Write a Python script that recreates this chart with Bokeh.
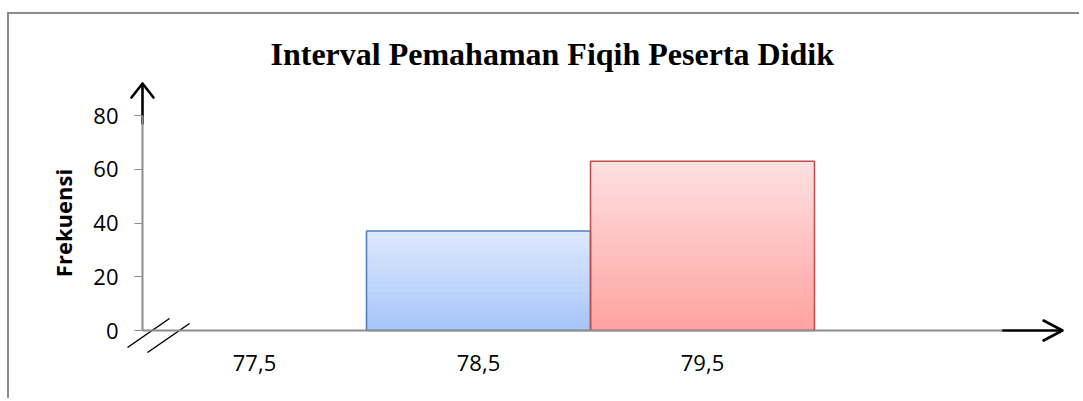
from bokeh.plotting import figure
from bokeh.models import Range1d, LinearAxis, FixedTicker
from bokeh.embed import file_html
from bokeh.resources import INLINE

# ---------------- data ----------------
classes = ["77,5", "78,5", "79,5"]          # x tick labels
class_mid = [77.5, 78.5, 79.5]              # class mid points
frekuensi = [0, 37, 63]                     # bar heights
y_ticks = [0, 20, 40, 60, 80]
bar_width = 1.0
x_axis_start, x_axis_end = 77.0, 80.84
y_axis_start, y_axis_end = 0, 80

# ---------------- styles ----------------
edge_colors = ["#4f81bd", "#4f81bd", "#c0504d"]
grad_top = [(222, 233, 252), (222, 233, 252), (253, 225, 225)]
grad_bottom = [(165, 196, 250), (165, 196, 250), (255, 162, 160)]
axis_gray = "#8c8c8c"

# ---------------- layout (page pixels) ----------------
W, H = 1072, 386
CANVAS_X0, CANVAS_Y0 = 9, 14
FRAME_TOP = 80
ORIGIN_X, ORIGIN_Y = 142, 330     # page pixel of (77.0, 0)
PX_PER_X = 224.0
PX_PER_Y = 215.0 / 80.0


def dx(page_x):
    return x_axis_start + (page_x - ORIGIN_X) / PX_PER_X


def dy(page_y):
    return (ORIGIN_Y - page_y) / PX_PER_Y


x_range = Range1d(dx(CANVAS_X0), dx(CANVAS_X0 + W))
y_range = Range1d(dy(CANVAS_Y0 + H), dy(FRAME_TOP))

p = figure(width=W, height=H, x_range=x_range, y_range=y_range,
           output_backend="svg", toolbar_location=None,
           x_axis_type=None, y_axis_type=None,
           min_border_left=0, min_border_right=0, min_border_bottom=0,
           min_border_top=FRAME_TOP - CANVAS_Y0,
           title="Interval Pemahaman Fiqih Peserta Didik")
p.grid.visible = False
p.outline_line_color = None
p.background_fill_color = "white"
p.border_fill_color = "white"
p.styles = {"border-top": "2px solid #8a8a8a", "border-left": "2px solid #8a8a8a",
            "transform": "translate(%dpx, %dpx)" % (CANVAS_X0 - 2, CANVAS_Y0 - 2)}

p.title.text_font = "Liberation Serif"
p.title.text_font_style = "bold"
p.title.text_font_size = "32px"
p.title.text_color = "black"
p.title.align = "left"
p.title.offset = 270 - CANVAS_X0
p.title.standoff = 18

# ---------------- bars with vertical gradient ----------------
N = 60
sl, sr, sb, st, sc = [], [], [], [], []
for mid, f, ct, cb in zip(class_mid, frekuensi, grad_top, grad_bottom):
    if f <= 0:
        continue
    for k in range(N):
        t = (k + 0.5) / N
        col = tuple(int(round(cb[j] + (ct[j] - cb[j]) * t)) for j in range(3))
        sl.append(mid - bar_width / 2)
        sr.append(mid + bar_width / 2)
        sb.append(f * k / N)
        st.append(f * (k + 1) / N + (f / N) * 0.3 if k < N - 1 else f)
        sc.append("#%02x%02x%02x" % col)
p.quad(left=sl, right=sr, bottom=sb, top=st, fill_color=sc, line_color=None)

# outlines
ol = [m - bar_width / 2 for m, f in zip(class_mid, frekuensi) if f > 0]
orr = [m + bar_width / 2 for m, f in zip(class_mid, frekuensi) if f > 0]
ot = [f for f in frekuensi if f > 0]
oc = [c for c, f in zip(edge_colors, frekuensi) if f > 0]
p.quad(left=ol, right=orr, bottom=[0] * len(ot), top=ot, fill_color=None,
       line_color=oc, line_width=1.6)

# ---------------- axes ----------------
yaxis = LinearAxis(fixed_location=x_axis_start, bounds=(y_axis_start, y_axis_end),
                   ticker=FixedTicker(ticks=y_ticks, minor_ticks=[]))
yaxis.axis_line_color = axis_gray
yaxis.axis_line_width = 2
yaxis.major_tick_line_color = axis_gray
yaxis.major_tick_line_width = 1
yaxis.major_tick_out = 8
yaxis.major_tick_in = 0
yaxis.minor_tick_line_color = None
yaxis.major_label_text_font = "Open Sans"
yaxis.major_label_text_font_size = "22px"
yaxis.major_label_text_color = "black"
yaxis.major_label_standoff = 16
yaxis.axis_label = "Frekuensi"
yaxis.axis_label_text_font = "Open Sans"
yaxis.axis_label_text_font_style = "bold"
yaxis.axis_label_text_font_size = "22px"
yaxis.axis_label_text_color = "black"
yaxis.axis_label_standoff = 12
p.add_layout(yaxis, "left")

xaxis = LinearAxis(fixed_location=0, bounds=(x_axis_start, x_axis_end),
                   ticker=FixedTicker(ticks=class_mid, minor_ticks=[]))
xaxis.major_label_overrides = {m: c for m, c in zip(class_mid, classes)}
xaxis.axis_line_color = axis_gray
xaxis.axis_line_width = 2
xaxis.major_tick_line_color = None
xaxis.major_tick_out = 0
xaxis.major_tick_in = 0
xaxis.minor_tick_line_color = None
xaxis.major_label_text_font = "Open Sans"
xaxis.major_label_text_font_size = "22px"
xaxis.major_label_text_color = "black"
xaxis.major_label_standoff = 24
p.add_layout(xaxis, "below")

# ---------------- hand-drawn arrows & axis break ----------------
vx = ORIGIN_X
hy = ORIGIN_Y
arrow_xs = [
    [dx(vx), dx(vx)],                               # vertical shaft
    [dx(vx - 11), dx(vx), dx(vx + 11)],             # vertical head
    [x_axis_end, dx(1061)],                         # horizontal shaft
    [dx(1043), dx(1062), dx(1043)],                 # horizontal head
]
arrow_ys = [
    [dy(123), dy(84)],
    [dy(97), dy(83), dy(97)],
    [0, 0],
    [dy(320), dy(330), dy(340)],
]
p.multi_line(xs=arrow_xs, ys=arrow_ys, line_color="black", line_width=2.6,
             line_join="round", line_cap="round")
p.segment(x0=[dx(127), dx(147)], y0=[dy(347), dy(352)],
          x1=[dx(169), dx(189)], y1=[dy(318), dy(323)],
          line_color="black", line_width=1.5)

open("out.html", "w").write(file_html(p, INLINE))
